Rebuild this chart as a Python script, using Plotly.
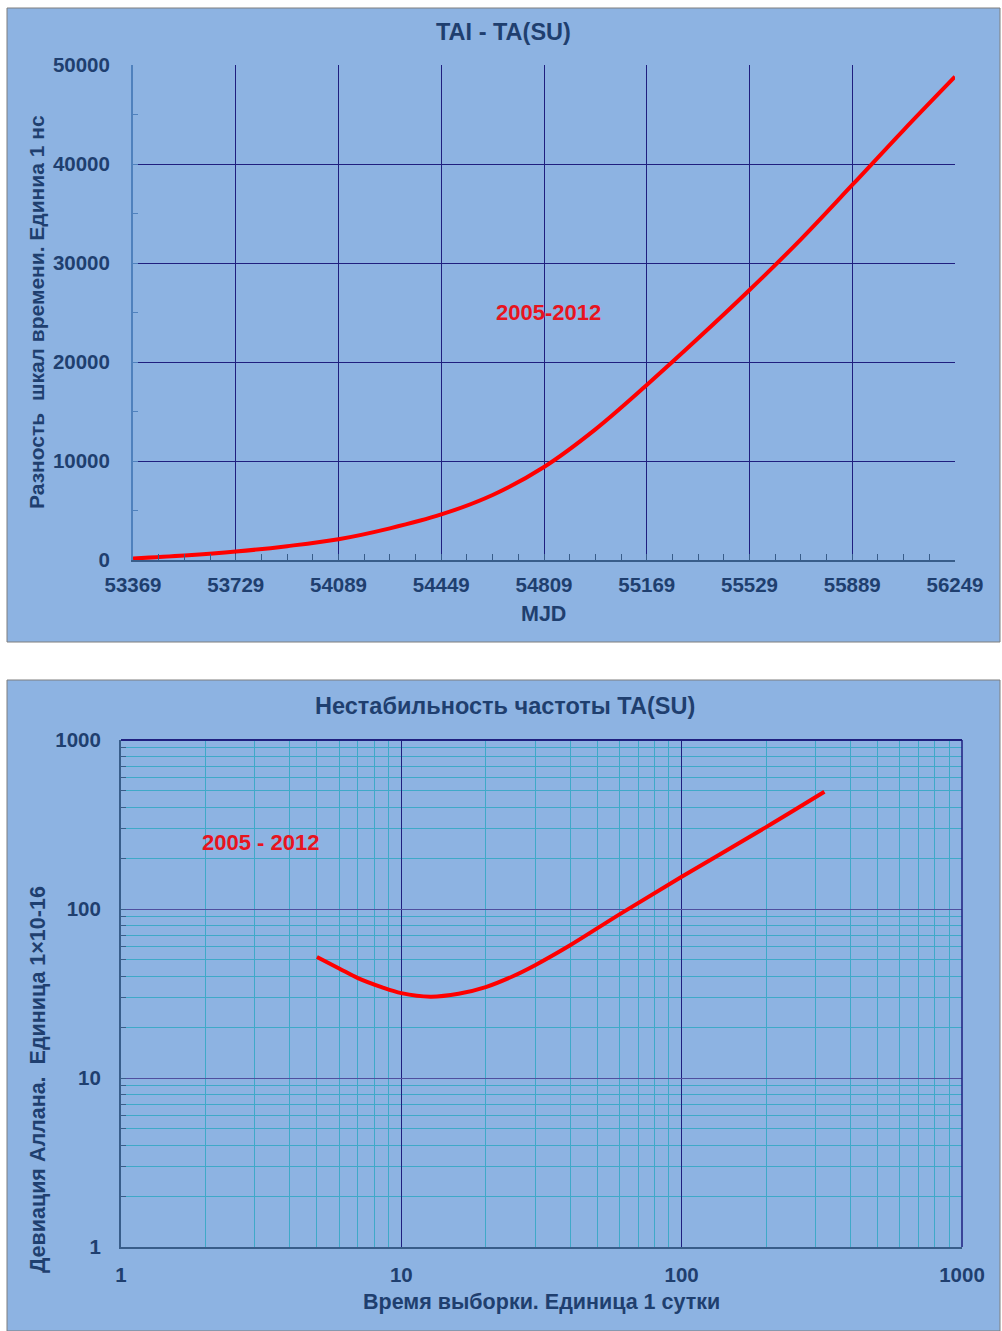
import plotly.graph_objects as go

# --- TAI - TA(SU): time-scale difference, ns, vs MJD ---
mjd = [53369, 53549, 53729, 53909, 54089, 54269, 54449, 54629, 54809,
       54989, 55169, 55349, 55529, 55709, 55889, 56069, 56249]
diff_ns = [150, 450, 850, 1400, 2100, 3200, 4600, 6570, 9400,
           13200, 17680, 22390, 27270, 32390, 37880, 43430, 48820]
mjd_ticks = [53369, 53729, 54089, 54449, 54809, 55169, 55529, 55889, 56249]
diff_ticks = [0, 10000, 20000, 30000, 40000, 50000]

# --- Allan deviation of TA(SU), units of 1e-16, vs sampling time in days ---
tau_days = [5, 6, 7, 8.5, 10, 12.7, 16, 20, 25, 30, 40, 60, 100, 200, 323]
adev = [52, 44.5, 39, 34.5, 31.8, 30.3, 31.5, 34.5, 40, 46.5, 61, 93, 155, 305, 494]
log_ticks = [1, 10, 100, 1000]
log_minor = [m * d for d in (1, 10, 100) for m in range(2, 10)]

W, H = 1002, 1331
PANEL = "#8DB3E2"
PLOT_BG = "#DCE6F2"
NAVY = "#1F1F7F"
CYAN = "#3FA9C8"
TXT = "#1F3F6F"
AXIS = "#385D8A"
FONT = "Liberation Sans, Arial, sans-serif"


def px(x):
    return x / W


def py(y):
    return 1 - y / H


fig = go.Figure()

fig.add_trace(go.Scatter(
    x=mjd, y=diff_ns, mode="lines", line=dict(color="#FF0000", width=4, shape="spline"),
    xaxis="x", yaxis="y", showlegend=False, hoverinfo="skip"))

fig.add_trace(go.Scatter(
    x=tau_days, y=adev, mode="lines", line=dict(color="#FF0000", width=4, shape="spline"),
    xaxis="x2", yaxis="y2", showlegend=False, hoverinfo="skip"))

tickfont = dict(family=FONT, size=20.5, color=TXT, weight="bold")

fig.update_layout(
    width=W, height=H,
    margin=dict(l=0, r=0, t=0, b=0, autoexpand=False),
    paper_bgcolor="white",
    plot_bgcolor=PLOT_BG,
    font=dict(family=FONT, color=TXT),
    xaxis=dict(
        domain=[px(133), px(955)], anchor="y", automargin=False,
        range=[53369, 56249], tickvals=mjd_ticks, tickformat="d",
        showgrid=True, gridcolor=NAVY, gridwidth=1,
        showline=True, linecolor=AXIS, linewidth=2,
        ticks="inside", ticklen=6, tickcolor=AXIS,
        minor=dict(dtick=90, tick0=53369, ticks="inside", ticklen=6, tickcolor=AXIS, showgrid=False),
        tickfont=tickfont, ticklabelstandoff=5, zeroline=False,
    ),
    yaxis=dict(
        domain=[py(560), py(65)], anchor="x", automargin=False,
        range=[0, 50000], tickvals=diff_ticks, tickformat="d",
        showgrid=True, gridcolor=NAVY, gridwidth=1,
        showline=True, linecolor="#4F81BD", linewidth=2,
        ticks="inside", ticklen=5, tickcolor="#4F81BD",
        minor=dict(dtick=5000, tick0=0, ticks="inside", ticklen=5, tickcolor="#4F81BD", showgrid=False),
        tickfont=tickfont, ticklabelstandoff=17, zeroline=False,
    ),
    xaxis2=dict(
        domain=[px(121), px(962)], anchor="y2", type="log", automargin=False,
        range=[0, 3], tickvals=log_ticks, ticktext=[str(v) for v in log_ticks],
        showgrid=True, gridcolor=NAVY, gridwidth=1,
        showline=True, linecolor=AXIS, linewidth=2,
        ticks="", minor=dict(tickvals=log_minor, showgrid=True, gridcolor=CYAN, gridwidth=1.2, ticks=""),
        tickfont=tickfont, ticklabelstandoff=8, zeroline=False,
    ),
    yaxis2=dict(
        domain=[py(1247), py(740)], anchor="x2", type="log", automargin=False,
        range=[0, 3], tickvals=log_ticks, ticktext=[str(v) for v in log_ticks],
        showgrid=True, gridcolor="#4F4F9F", gridwidth=1,
        showline=True, linecolor=AXIS, linewidth=2,
        ticks="inside", ticklen=5, tickcolor=AXIS,
        minor=dict(tickvals=log_minor, showgrid=True, gridcolor=CYAN, gridwidth=1.2,
                   ticks="inside", ticklen=5, tickcolor=AXIS),
        tickfont=tickfont, ticklabelstandoff=14, zeroline=False,
    ),
)

# Blue panels behind each chart, plus top/right frame lines
shapes = [
    dict(type="rect", xref="paper", yref="paper", x0=px(7), x1=px(1000), y0=py(642), y1=py(8),
         fillcolor=PANEL, line=dict(color="#7F7F7F", width=1), layer="below"),
    dict(type="rect", xref="paper", yref="paper", x0=px(7), x1=px(1000), y0=py(1331), y1=py(680),
         fillcolor=PANEL, line=dict(color="#7F7F7F", width=1), layer="below"),
    dict(type="line", xref="x2 domain", yref="y2 domain", x0=0, x1=1, y0=1, y1=1,
         line=dict(color=NAVY, width=2)),
    dict(type="line", xref="x2 domain", yref="y2 domain", x0=1, x1=1, y0=0, y1=1,
         line=dict(color=NAVY, width=1.5)),
]
fig.update_layout(shapes=shapes)

title_font = dict(family=FONT, size=23.5, color=TXT, weight="bold")
label_font = dict(family=FONT, size=21.5, color=TXT, weight="bold")
red_font = dict(family=FONT, size=22, color="#E8141E", weight="bold")

annotations = [
    dict(text="TAI - TA(SU)", x=px(504), y=py(32), font=title_font),
    dict(text="MJD", x=px(543), y=py(614), font=label_font),
    dict(text="Разность  шкал времени. Единиа 1 нс", x=px(37), y=py(312),
         textangle=-90, font=dict(label_font, size=21)),
    dict(text="Нестабильность частоты TA(SU)", x=px(505), y=py(706), font=title_font),
    dict(text="Время выборки. Единица 1 сутки", x=px(541), y=py(1302), font=label_font),
    dict(text="Девиация Аллана.  Единица 1×10-16", x=px(38), y=py(1080),
         textangle=-90, font=label_font),
]
for a in annotations:
    a.update(xref="paper", yref="paper", showarrow=False, xanchor="center", yanchor="middle")

annotations += [
    dict(text="2005-2012", x=54823, y=25050, xref="x", yref="y",
         showarrow=False, font=red_font),
    dict(text="2005 - 2012", x=0.496, y=2.396, xref="x2", yref="y2",
         showarrow=False, font=red_font),
]
fig.update_layout(annotations=annotations)

fig.write_html("out.html")
